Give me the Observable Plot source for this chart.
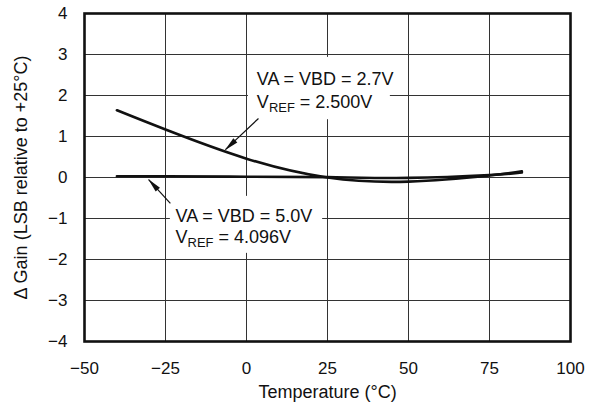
<!DOCTYPE html>
<html>
<head>
<meta charset="utf-8">
<script src="https://cdn.jsdelivr.net/npm/d3@7"></script>
<script src="https://cdn.jsdelivr.net/npm/@observablehq/plot@0.6"></script>
<style>
  html, body { margin: 0; padding: 0; background: #fff; }
  #chart { width: 595px; height: 402px; }
  svg { font-family: "Liberation Sans", Arial, Helvetica, sans-serif; }
</style>
</head>
<body>
<div id="chart"></div>
<script>
// Data
const temps = [-40, -25, 0, 25, 50, 75, 85];
const gain27 = [1.64, 1.17, 0.46, 0.0, -0.1, 0.05, 0.15];
const gain50 = [0.03, 0.03, 0.02, 0.01, -0.01, 0.06, 0.12];
const xTicks = [-50, -25, 0, 25, 50, 75, 100];
const yTicks = [-4, -3, -2, -1, 0, 1, 2, 3, 4];
const xLabel = "Temperature (°C)";
const yLabel = "Δ Gain (LSB relative to +25°C)";

// annotations (data coordinates)
const annBoxes = [
  {x1: 0.6, x2: 44.4, y1: 2.93, y2: 1.41},
  {x1: -23.5, x2: 23.5, y1: -0.46, y2: -1.85}
];
const annTexts = [
  {x: 3.2, y: 2.39, t: "VA = VBD = 2.7V"},
  {x: 3.2, y: 1.83, t: "VREF = 2.500V"},
  {x: -21.9, y: -0.95, t: "VA = VBD = 5.0V"},
  {x: -21.9, y: -1.46, t: "VREF = 4.096V"}
];
const annArrows = [
  {x1: 3.7, y1: 1.44, x2: -6.5, y2: 0.68},
  {x1: -23.5, y1: -0.63, x2: -30.2, y2: -0.05}
];

const series27 = temps.map((t, i) => ({t, g: gain27[i]}));
const series50 = temps.map((t, i) => ({t, g: gain50[i]}));

const chart = Plot.plot({
  width: 595,
  height: 402,
  marginLeft: 84,
  marginRight: 25,
  marginTop: 13,
  marginBottom: 61,
  style: {fontSize: "17px", fontFamily: "'Liberation Sans', Arial, sans-serif", color: "#111", background: "#fff"},
  x: {domain: [-50, 100]},
  y: {domain: [-4, 4]},
  marks: [
    Plot.gridX(xTicks, {stroke: "#333", strokeOpacity: 1, strokeWidth: 1}),
    Plot.gridY(yTicks, {stroke: "#333", strokeOpacity: 1, strokeWidth: 1}),
    Plot.rect(annBoxes, {x1: "x1", x2: "x2", y1: "y1", y2: "y2", fill: "#fff"}),
    Plot.axisX({ticks: xTicks, tickSize: 0, tickPadding: 20, fontSize: 17, label: null}),
    Plot.axisX({ticks: [], tickSize: 0, label: xLabel, labelAnchor: "center", labelArrow: "none", labelOffset: 56, fontSize: 18}),
    Plot.axisY({ticks: yTicks, tickSize: 0, tickPadding: 17, fontSize: 17, label: null}),
    Plot.axisY({ticks: [], tickSize: 0, label: yLabel, labelAnchor: "center", labelArrow: "none", labelOffset: 70, fontSize: 18}),
    Plot.line(series27, {x: "t", y: "g", curve: "natural", stroke: "#111", strokeWidth: 2.6}),
    Plot.line(series50, {x: "t", y: "g", curve: "natural", stroke: "#111", strokeWidth: 2.6}),
    Plot.link(annArrows, {x1: "x1", y1: "y1", x2: "x2", y2: "y2", stroke: "#111", strokeWidth: 1.2, className: "ann-arrow"}),
    Plot.text(annTexts, {x: "x", y: "y", text: "t", textAnchor: "start", lineAnchor: "middle", fontSize: 18, fill: "#111", className: "ann-text"}),
    Plot.frame({stroke: "#111", strokeWidth: 2.6})
  ]
});

document.getElementById("chart").appendChild(chart);

// filled arrowheads
const svg = d3.select(chart);
const defs = svg.insert("defs", ":first-child");
defs.append("marker")
  .attr("id", "ann-head")
  .attr("viewBox", "0 -5 18 10")
  .attr("refX", 17).attr("refY", 0)
  .attr("markerUnits", "userSpaceOnUse")
  .attr("markerWidth", 16).attr("markerHeight", 8)
  .attr("orient", "auto")
  .append("path").attr("d", "M0,-3.6L18,0L0,3.6Z").attr("fill", "#111");
svg.selectAll(".ann-arrow path, path.ann-arrow").attr("marker-end", "url(#ann-head)");
svg.selectAll(".ann-arrow line").attr("marker-end", "url(#ann-head)");

// subscripts for V_REF
svg.selectAll("text").each(function() {
  const el = d3.select(this);
  const s = this.textContent;
  if (s.startsWith("VREF") && this.children.length === 0) {
    const rest = s.slice(4);
    el.text(null);
    el.append("tspan").text("V");
    el.append("tspan").attr("font-size", "0.72em").attr("dy", "0.32em").text("REF");
    el.append("tspan").attr("dy", "-0.23em").text(rest);
  }
});
</script>
</body>
</html>
